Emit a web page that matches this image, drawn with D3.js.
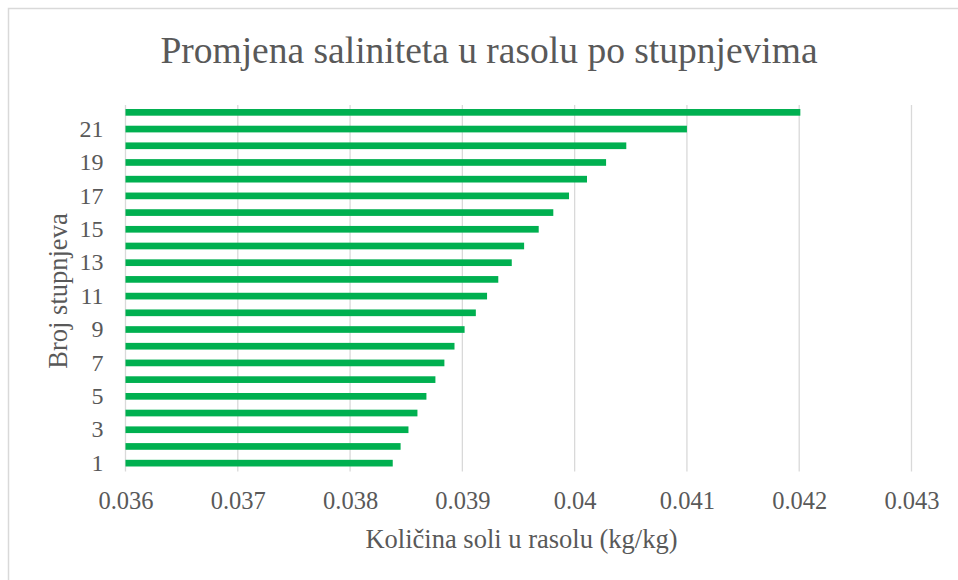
<!DOCTYPE html>
<html>
<head>
<meta charset="utf-8">
<script src="https://cdn.jsdelivr.net/npm/d3@7"></script>
<style>
  body { margin: 0; background: #fff; }
</style>
</head>
<body>
<div id="chart"></div>
<script>
// stage numbers and salt content in the brine (kg/kg)
const stages = d3.range(1, 23)
const salt = [
  0.03838, 0.03845, 0.03852, 0.03860, 0.03868, 0.03876, 0.03884, 0.03893,
  0.03902, 0.03912, 0.03922, 0.03932, 0.03944, 0.03955, 0.03968, 0.03981,
  0.03995, 0.04011, 0.04028, 0.04046, 0.04100, 0.04201
]
const xTicks = [0.036, 0.037, 0.038, 0.039, 0.04, 0.041, 0.042, 0.043]
const yTicks = [1, 3, 5, 7, 9, 11, 13, 15, 17, 19, 21]

const data = stages.map((s, i) => ({ stage: s, value: salt[i] }))

const font = '"Times New Roman", Times, "Liberation Serif", "DejaVu Serif", serif'
const ink = '#595959'

const width = 958
const height = 580
const margin = { top: 104, right: 46.5, bottom: 108.5, left: 125.5 }
const innerWidth = width - margin.left - margin.right
const innerHeight = height - margin.top - margin.bottom

const svg = d3.select('#chart').append('svg')
  .attr('width', width)
  .attr('height', height)
  .style('font-family', font)

// outer chart border, only its top and left edges are in the frame
svg.append('path')
  .attr('d', 'M8.5,' + height + 'V8.5H' + width)
  .attr('fill', 'none')
  .attr('stroke', '#d9d9d9')
  .attr('stroke-width', 1.5)

svg.append('text')
  .attr('x', 489).attr('y', 63)
  .attr('text-anchor', 'middle')
  .style('font-family', font)
  .style('font-size', '37.5px')
  .attr('fill', ink)
  .text('Promjena saliniteta u rasolu po stupnjevima')

const g = svg.append('g')
  .attr('transform', 'translate(' + margin.left + ',' + margin.top + ')')

const x = d3.scaleLinear()
  .domain([0.036, 0.043])
  .range([0, innerWidth])

const y = d3.scaleBand()
  .domain(stages.slice().reverse())
  .range([0, innerHeight])
  .paddingInner(0.6)
  .paddingOuter(0.3)

// vertical gridlines
g.append('g')
  .selectAll('line')
  .data(xTicks)
  .join('line')
  .attr('x1', d => x(d)).attr('x2', d => x(d))
  .attr('y1', 1).attr('y2', innerHeight)
  .attr('stroke', '#d9d9d9')
  .attr('stroke-width', 1.3)

g.selectAll('.bar')
  .data(data)
  .join('rect')
  .attr('class', 'bar')
  .attr('x', x(0.036))
  .attr('y', d => y(d.stage))
  .attr('width', d => x(d.value) - x(0.036))
  .attr('height', y.bandwidth())
  .attr('fill', '#00b050')

// x tick labels
g.append('g')
  .attr('transform', 'translate(0,' + innerHeight + ')')
  .call(d3.axisBottom(x).tickValues(xTicks).tickSize(0).tickPadding(20)
    .tickFormat(d => String(+d.toFixed(3))))
  .call(a => a.select('.domain').remove())
  .selectAll('text')
  .style('font-family', font)
  .style('font-size', '24.5px')
  .attr('fill', ink)

// y tick labels
g.append('g')
  .call(d3.axisLeft(y).tickValues(yTicks).tickSize(0).tickPadding(22))
  .call(a => a.select('.domain').remove())
  .selectAll('text')
  .style('font-family', font)
  .style('font-size', '24px')
  .attr('fill', ink)

svg.append('text')
  .attr('x', 521.5).attr('y', 548)
  .attr('text-anchor', 'middle')
  .style('font-family', font)
  .style('font-size', '26.5px')
  .attr('fill', ink)
  .text('Količina soli u rasolu (kg/kg)')

svg.append('text')
  .attr('transform', 'translate(67,291) rotate(-90)')
  .attr('text-anchor', 'middle')
  .style('font-family', font)
  .style('font-size', '26.5px')
  .attr('fill', ink)
  .text('Broj stupnjeva')
</script>
</body>
</html>
